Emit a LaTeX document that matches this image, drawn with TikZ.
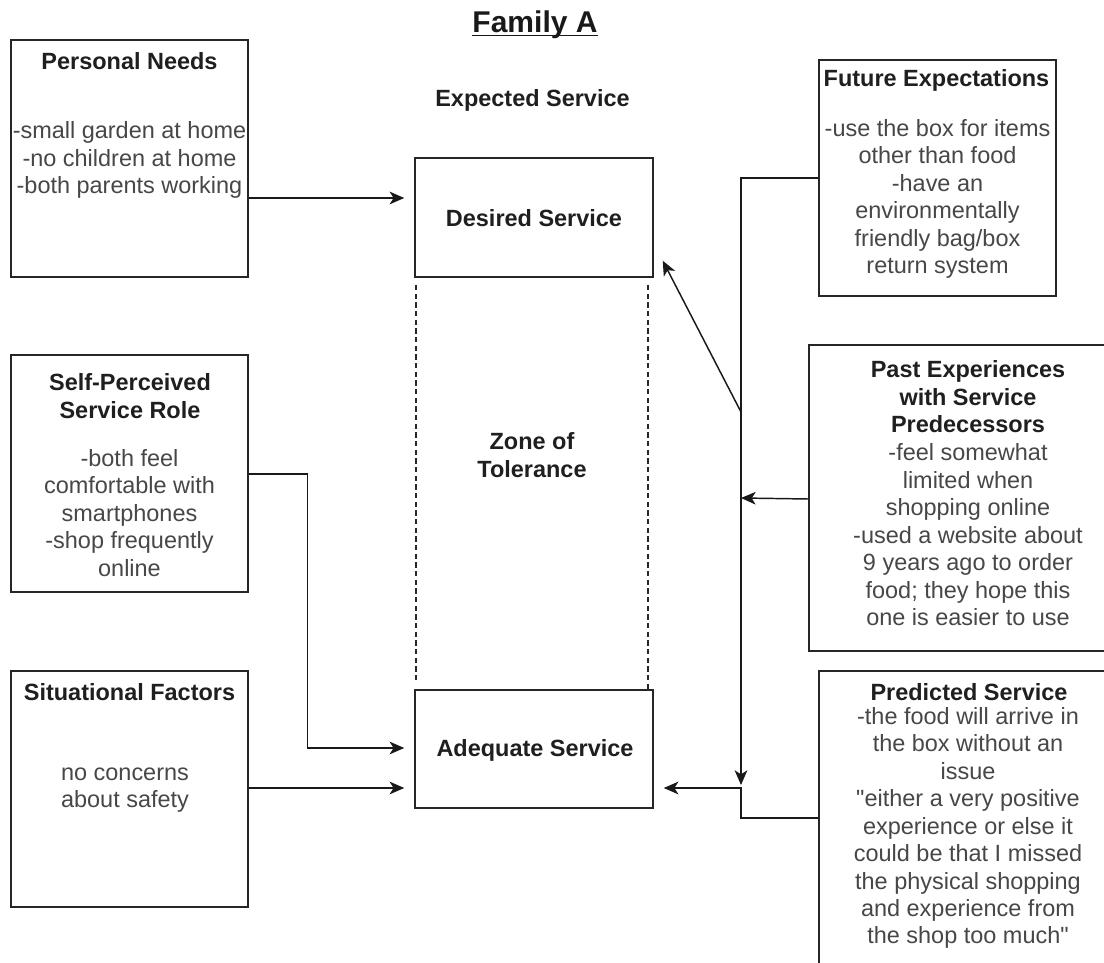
\documentclass[tikz,border=0pt]{standalone}
\usepackage{fontspec}
\setmainfont{Liberation Sans}[Ligatures=TeXOff]
\usetikzlibrary{arrows.meta,calc,fit}

\begin{document}
\begin{tikzpicture}[x=0.75pt,y=-0.75pt,
  box/.style={draw=black!85, line width=1.1pt, inner sep=0pt, rectangle},
  hd/.style={font=\fontsize{17.6}{20.6}\selectfont\bfseries, text=black!88, align=center, inner sep=0pt},
  bd/.style={font=\fontsize{17.6}{20.6}\selectfont, text=black!72, align=center, inner sep=0pt},
  link/.style={draw=black!90, line width=1.1pt},
  arr/.style={link, -{Stealth[length=11pt,width=9.5pt,inset=3pt]}},
  zone/.style={draw=black!85, line width=0.9pt, dash pattern=on 4pt off 2.5pt}]

\useasboundingbox (0,0) rectangle (1104,963);
\clip (0,0) rectangle (1104,963);
\fill[white] (0,0) rectangle (1104,963);

% heading
\node[font=\fontsize{22.5}{26}\selectfont\bfseries, text=black!90, inner sep=0pt, anchor=base] (famA) at (535,33) {Family A};
\draw[line width=1.4pt, black!90] ($(famA.base west)+(0,2.5)$) -- ($(famA.base east)+(0,2.5)$);

% boxes
\node[box, fit={(11,40) (248,277)}] (pn) {};
\node[box, fit={(11,355) (248,592)}] (sp) {};
\node[box, fit={(11,671) (248,907)}] (sf) {};
\node[box, fit={(415,158) (653,277)}] (ds) {};
\node[box, fit={(415,690) (653,808)}] (as) {};
\node[box, fit={(819,60) (1056,296)}] (fe) {};
\node[box, fit={(809,345) (1127,651)}] (pe) {};
\node[box, fit={(819,671) (1117,1000)}] (ps) {};

% zone of tolerance bounds
\draw[zone] (416,285) -- (416,680);
\draw[zone] (648,285) -- (648,690);

% centre texts
\node[hd] (es) at (532.5,100) {Expected Service};
\node[hd] (dst) at (534,218) {Desired Service};
\node[hd] (ast) at (535,750) {Adequate Service};
\node[hd] (zt) at (532,455) {Zone of\\Tolerance};

% left column texts
\node[hd] (pnh) at (129.5,61) {Personal Needs};
\node[bd] (pnb) at (129.5,160) {-small garden at home\\-no children at home\\-both parents working};
\node[hd] (sph) at (130,396) {Self-Perceived\\Service Role};
\node[bd] (spb) at (129.5,513) {-both feel\\comfortable with\\smartphones\\-shop frequently\\online};
\node[hd] (sfh) at (129.5,692) {Situational Factors};
\node[bd] (sfb) at (125,790) {no concerns\\about safety};

% right column texts
\node[hd] (feh) at (936.5,80) {Future Expectations};
\node[bd] (feb) at (937.5,199) {-use the box for items\\other than food\\-have an\\environmentally\\friendly bag/box\\return system};
\node[hd] (peh) at (968,397) {Past Experiences\\with Service\\Predecessors};
\node[bd] (peb) at (968,535) {-feel somewhat\\limited when\\shopping online\\-used a website about\\9 years ago to order\\food; they hope this\\one is easier to use};
\node[hd] (psh) at (969,692) {Predicted Service};
\node[bd] (psb) at (968,828) {-the food will arrive in\\the box without an\\issue\\"either a very positive\\experience or else it\\could be that I missed\\the physical shopping\\and experience from\\the shop too much"};

% junctions on the right-hand trunk line
\coordinate (jn) at (741,788);
\coordinate (dg) at (741,412);

% connectors
\draw[arr, shorten >=7.5pt] ($(pn.east)+(0,39.5)$) -- ($(ds.west)+(0,-19.5)$);
\draw[arr, shorten >=7.5pt] ($(sp.east)+(0,0.5)$) -- ++(59,0) |- ($(as.west)+(0,-1)$);
\draw[arr, shorten >=7.5pt] ($(sf.east)+(0,-1)$) -- ($(as.west)+(0,39)$);
\draw[arr, shorten >=2.25pt] (fe.west) -| (jn);
\draw[arr] (dg) -- ($(ds.south east)+(9,-17)$);
\draw[arr] ($(pe.west)+(0,1)$) -- (pe.west -| jn);
\draw[arr, shorten >=7.5pt] ($(ps.west)+(0,-17.5)$) -| (jn) -- ($(as.east)+(0,39)$);
\end{tikzpicture}
\end{document}
